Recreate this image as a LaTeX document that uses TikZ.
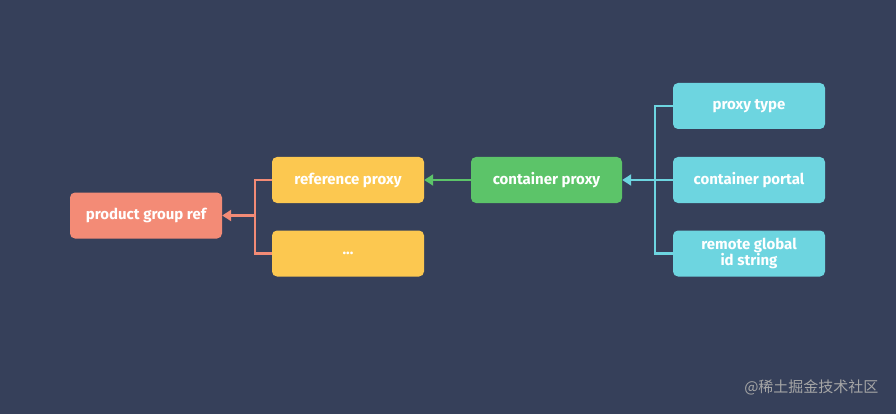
\documentclass[tikz,border=0pt]{standalone}
\usepackage{fontspec}
\setmainfont{Fira Sans}
\newfontfamily\cjk{Noto Sans CJK SC}
\usetikzlibrary{arrows.meta}
\definecolor{bg}{HTML}{36405A}
\definecolor{salmon}{HTML}{F38B76}
\definecolor{yel}{HTML}{FCC850}
\definecolor{grn}{HTML}{5CC469}
\definecolor{cy}{HTML}{6DD5E0}
\tikzset{
 bx/.style={rounded corners=5pt,minimum width=152pt,minimum height=46pt,text=white,font=\bfseries\fontsize{15}{16}\selectfont,align=center,inner sep=0pt},
 ln/.style={line width=2.2pt},
 tip/.style={-{Triangle[length=9pt,width=11pt]}}
}
\begin{document}
\begin{tikzpicture}[x=1pt,y=-1pt]
\fill[bg] (0,0) rectangle (896,414);
\node[bx,fill=salmon,minimum width=152pt] (pg) at (146,215.5) {product group ref};
\node[bx,fill=yel] (rp) at (348,180) {reference proxy};
\node[bx,fill=yel] (dd) at (348,253.5) {...};
\node[bx,fill=grn,minimum width=151pt] (cp) at (546.5,180) {container proxy};
\node[bx,fill=cy] (pt) at (749,106) {proxy type};
\node[bx,fill=cy] (cpo) at (749,180) {container portal};
\node[bx,fill=cy] (rg) at (749,253.5) {remote global\\id string};
\coordinate (cj) at (655,180);
\coordinate (sj) at (255,215.5);
\draw[ln,cy] (pt.west) -| (cj) |- (rg.west);
\draw[ln,cy] (cpo.west) -- (cj);
\draw[ln,cy,tip] (cj) -- (cp.east);
\draw[ln,grn,tip] (cp.west) -- (rp.east);
\draw[ln,salmon] (rp.west) -| (sj) |- (dd.west);
\draw[ln,salmon,tip] (sj) -- (pg.east);
\node[text=gray!70,font=\cjk\fontsize{15}{16}\selectfont,anchor=east] (wm) at (882,387) {@稀土掘金技术社区};
\end{tikzpicture}
\end{document}
